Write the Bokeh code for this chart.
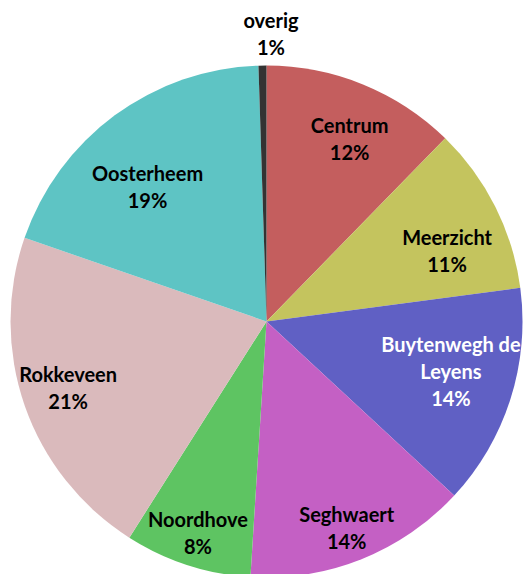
import math
from bokeh.plotting import figure
from bokeh.models import Range1d, ColumnDataSource
from bokeh.core.properties import value
from bokeh.embed import file_html
from bokeh.resources import INLINE

# data (percent shares, clockwise from 12 o'clock)
districts = ["Centrum", "Meerzicht", "Buytenwegh de\nLeyens", "Seghwaert",
             "Noordhove", "Rokkeveen", "Oosterheem", "overig"]
shares = [12.3, 10.6, 14.0, 14.1, 8.0, 21.3, 19.2, 0.5]
pct_labels = ["12%", "11%", "14%", "14%", "8%", "21%", "19%", "1%"]
colors = ["#C45E5E", "#C4C45E", "#6060C4", "#C460C4",
          "#5EC462", "#DABABC", "#5EC4C4", "#333333"]
text_colors = ["black", "black", "white", "black",
               "black", "black", "black", "black"]
# label placement (style): radial distance and angular nudge in degrees
label_r = [201, 194, 191, 221, 222, 209, 180, 288]
label_nudge = [2.3, 5.2, -2.6, 0.5, 0.0, 0.9, -5.0, 1.8]

R = 256
total = sum(shares)
starts, ends, lx, ly, ltext = [], [], [], [], []
cum = 0.0
for s, nm, pl, lr, nd in zip(shares, districts, pct_labels, label_r, label_nudge):
    a0 = cum / total * 2 * math.pi
    cum += s
    a1 = cum / total * 2 * math.pi
    starts.append(math.pi / 2 - a0)
    ends.append(math.pi / 2 - a1)
    mid = (a0 + a1) / 2 + math.radians(nd)
    lx.append(lr * math.sin(mid))
    ly.append(lr * math.cos(mid))
    ltext.append(nm + "\n" + pl)

src = ColumnDataSource(dict(start=starts, end=ends, color=colors))
lsrc = ColumnDataSource(dict(x=lx, y=ly, text=ltext, tc=text_colors))

p = figure(width=523, height=574, output_backend="svg", toolbar_location=None,
           x_range=Range1d(-266, 257), y_range=Range1d(-253, 321),
           min_border=0, outline_line_color=None)
p.axis.visible = False
p.grid.visible = False
p.background_fill_color = "white"
p.border_fill_color = "white"

p.wedge(x=0, y=0, radius=R, start_angle="start", end_angle="end",
        direction="clock", fill_color="color", line_color=None, source=src)

p.text(x="x", y="y", text="text", source=lsrc, text_color="tc",
       text_font=value("Lato"), text_font_style="bold", text_font_size="20px",
       text_align="center", text_baseline="middle", text_line_height=1.12)

open("out.html", "w").write(file_html(p, INLINE))
